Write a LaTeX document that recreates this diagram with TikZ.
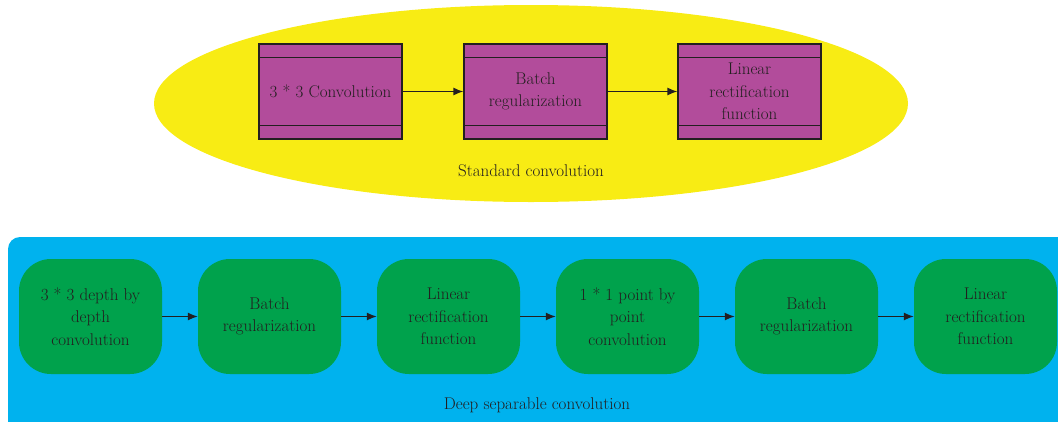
\documentclass[tikz,border=0pt]{standalone}
\usetikzlibrary{arrows.meta,calc}
\definecolor{ellyellow}{HTML}{F8EC14}
\definecolor{boxpurple}{HTML}{B24C9B}
\definecolor{panelblue}{HTML}{00B2EE}
\definecolor{boxgreen}{HTML}{00A24C}
\definecolor{inkdark}{HTML}{231F20}
\tikzset{
  pbox/.style={draw=inkdark, line width=1.2pt, fill=boxpurple, minimum width=143pt,
    minimum height=95pt, inner sep=0pt, align=center, text=inkdark,
    font=\fontsize{17}{22.5}\selectfont},
  gbox/.style={fill=boxgreen, rounded corners=32pt, minimum width=143pt,
    minimum height=115pt, inner sep=0pt, align=center, text=inkdark,
    font=\fontsize{17}{22.5}\selectfont},
  flow/.style={draw=inkdark, line width=1.3pt, -{Latex[length=10pt,width=8pt]}},
  caption/.style={text=inkdark, font=\fontsize{17}{20}\selectfont},
}
\begin{document}
\begin{tikzpicture}[x=1pt,y=-1pt]
\useasboundingbox (0,0) rectangle (1058,421);
\clip (0,0) rectangle (1058,421);

% standard convolution block
\fill[ellyellow] (531,103.5) ellipse [x radius=377, y radius=98.5];
\node[pbox] (s1) at (330.5,91.5) {3 * 3 Convolution};
\node[pbox] (s2) at (535.5,91.5) {Batch\\regularization};
\node[pbox] (s3) at (749.5,91.5) {Linear\\rectification\\function};
\foreach \b in {s1,s2,s3}{
  \draw[inkdark, line width=1.2pt] ($(\b.north west)+(0,14)$) -- ($(\b.north east)+(0,14)$);
  \draw[inkdark, line width=1.2pt] ($(\b.south west)+(0,-14)$) -- ($(\b.south east)+(0,-14)$);
}
\draw[flow] (s1.east) -- (s2.west);
\draw[flow] (s2.east) -- (s3.west);
\node[caption] (stdlabel) at (531,171) {Standard convolution};

% deep separable convolution block
\fill[panelblue, rounded corners=12pt] (8,237) rectangle (1075,445);
\node[gbox] (d1) at (90.5,316.5) {3 * 3 depth by\\depth\\convolution};
\node[gbox] (d2) at (269.5,316.5) {Batch\\regularization};
\node[gbox] (d3) at (448.5,316.5) {Linear\\rectification\\function};
\node[gbox] (d4) at (627.5,316.5) {1 * 1 point by\\point\\convolution};
\node[gbox] (d5) at (806.5,316.5) {Batch\\regularization};
\node[gbox] (d6) at (985.5,316.5) {Linear\\rectification\\function};
\foreach \a/\b in {d1/d2,d2/d3,d3/d4,d4/d5,d5/d6}{
  \draw[flow] (\a.east) -- (\b.west);
}
\node[caption] (seplabel) at (537,405) {Deep separable convolution};
\end{tikzpicture}
\end{document}
